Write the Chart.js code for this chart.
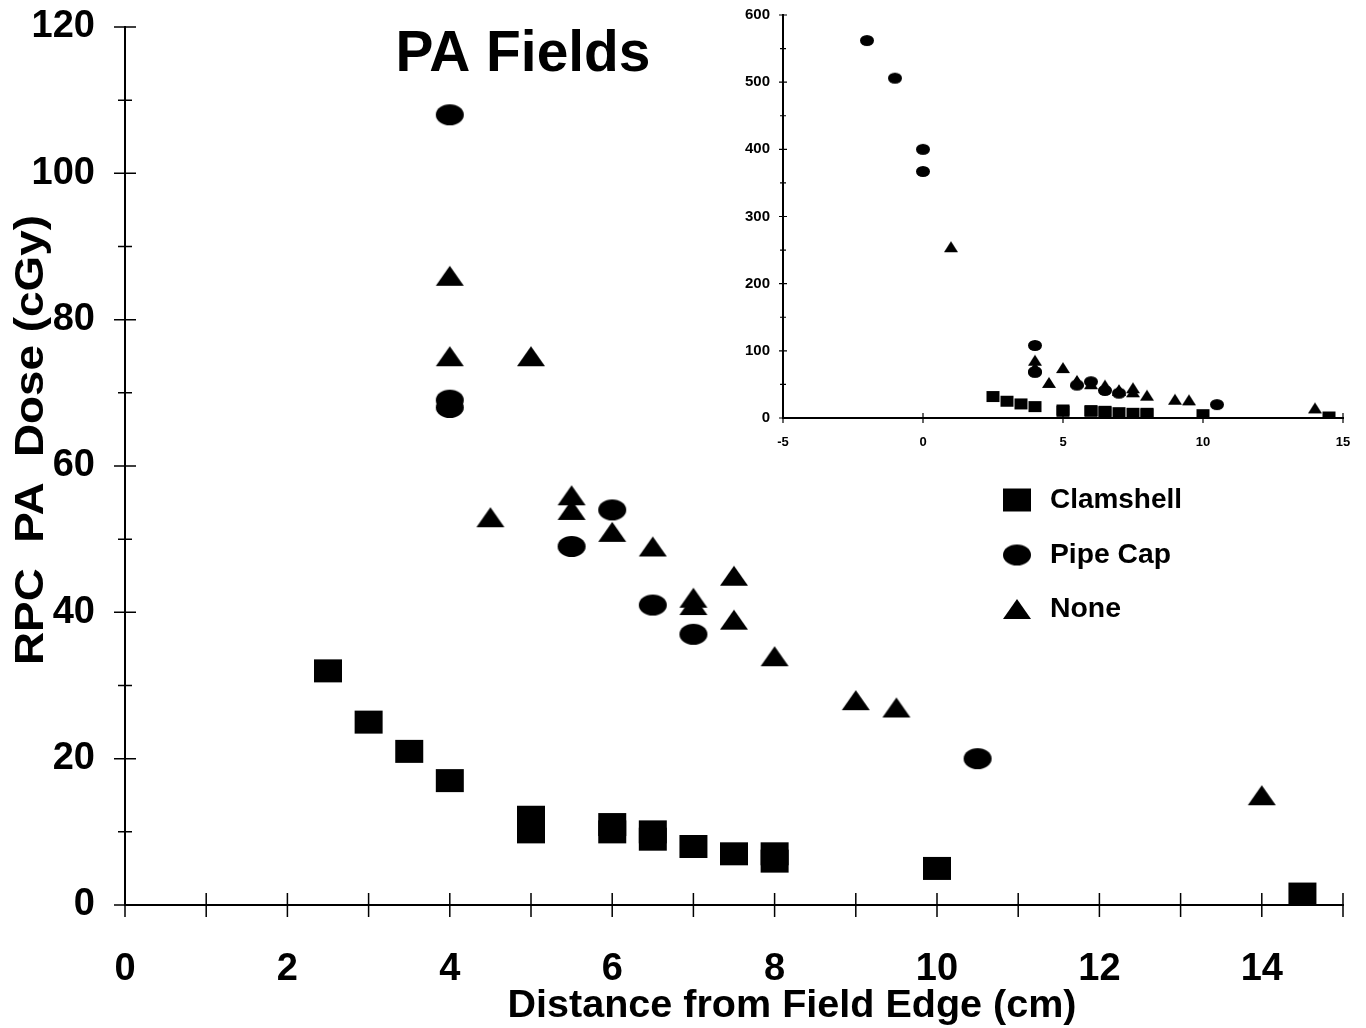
<!DOCTYPE html>
<html>
<head>
<meta charset="utf-8">
<script src="https://cdn.jsdelivr.net/npm/chart.js@4/dist/chart.umd.min.js"></script>
<style>
  html, body { margin: 0; padding: 0; background: #fff; }
  #wrap { position: relative; width: 1366px; height: 1028px; }
  #main { position: absolute; left: 0; top: 0; }
  #inset { position: absolute; left: 740px; top: 0; }
</style>
</head>
<body>
<div id="wrap">
  <canvas id="main" width="1366" height="1028"></canvas>
  <canvas id="inset" width="626" height="460"></canvas>
</div>
<script>
// values (distance in cm, dose in cGy)
const clamX = [2.5, 3, 3.5, 4, 5, 5, 6, 6, 6.5, 6.5, 7, 7.5, 8, 8, 10, 14.5];
const clamY = [32, 25, 21, 17, 12, 10, 11, 10, 10, 9, 8, 7, 7, 6, 5, 1.5];

const pipeX = [-2, -1, 0, 0, 4, 4, 4, 5.5, 6, 6.5, 7, 10.5];
const pipeY = [562, 506, 400, 367, 108, 69, 68, 49, 54, 41, 37, 20];

const noneX = [1, 4, 4, 4.5, 5, 5.5, 5.5, 6, 6.5, 7, 7, 7.5, 7.5, 8, 9, 9.5, 14];
const noneY = [255, 86, 75, 53, 75, 56, 54, 51, 49, 42, 41, 45, 39, 34, 28, 27, 15];

const seriesNames = ['Clamshell', 'Pipe Cap', 'None'];

const FONT = '"Liberation Sans", Arial, sans-serif';

function pairs(xs, ys) {
  return xs.map((x, i) => ({ x: x, y: ys[i] }));
}

// small canvases used as point markers
function marker(shape, w, h) {
  const c = document.createElement('canvas');
  c.width = w + 2;
  c.height = h + 2;
  const g = c.getContext('2d');
  g.fillStyle = '#000';
  g.beginPath();
  if (shape === 'rect') {
    g.rect(1, 1, w, h);
  } else if (shape === 'ellipse') {
    g.ellipse(1 + w / 2, 1 + h / 2, w / 2, h / 2, 0, 0, Math.PI * 2);
  } else {
    g.moveTo(1, h + 1);
    g.lineTo(1 + w / 2, 1);
    g.lineTo(w + 1, h + 1);
    g.closePath();
  }
  g.fill();
  return c;
}

const bigMarks = [marker('rect', 28, 23), marker('ellipse', 28, 21), marker('tri', 28, 20)];
const smallMarks = [marker('rect', 13, 11), marker('ellipse', 14, 11), marker('tri', 14, 11)];

function makeDatasets(marks) {
  const sets = [pairs(clamX, clamY), pairs(pipeX, pipeY), pairs(noneX, noneY)];
  return sets.map((d, i) => ({
    label: seriesNames[i],
    data: d,
    pointStyle: marks[i],
    pointRadius: 10,
    showLine: false
  }));
}

// text drawn squeezed to a given width (the original uses a narrow bold face)
function fitText(ctx, text, x, y, width, size, rot, align) {
  ctx.save();
  ctx.font = 'bold ' + size + 'px ' + FONT;
  const m = ctx.measureText(text).width;
  ctx.translate(x, y);
  ctx.rotate(rot || 0);
  ctx.scale(width / m, 1);
  ctx.textAlign = align || 'center';
  ctx.textBaseline = 'middle';
  ctx.fillStyle = '#000';
  ctx.fillText(text, 0, 0);
  ctx.restore();
}

// tick marks that cross the axis line
const crossTicks = {
  id: 'crossTicks',
  afterDatasetsDraw(chart, args, opts) {
    const ctx = chart.ctx;
    const xs = chart.scales.x, ys = chart.scales.y;
    ctx.save();
    ctx.strokeStyle = '#000';
    ctx.lineWidth = opts.width;
    ctx.beginPath();
    xs.ticks.forEach(t => {
      const px = xs.getPixelForValue(t.value);
      ctx.moveTo(px, ys.bottom - opts.xLen);
      ctx.lineTo(px, ys.bottom + opts.xLen);
    });
    ys.ticks.forEach(t => {
      const py = ys.getPixelForValue(t.value);
      const len = t.value % opts.yMajor === 0 ? opts.yLen : opts.yMinorLen;
      ctx.moveTo(xs.left - len, py);
      ctx.lineTo(xs.left + len, py);
    });
    ctx.stroke();
    ctx.restore();
  }
};

const textItems = {
  id: 'textItems',
  afterDraw(chart, args, opts) {
    const ctx = chart.ctx;
    (opts.items || []).forEach(it => fitText(ctx, it.text, it.x, it.y, it.w, it.size, it.rot, it.align));
    if (opts.legend) {
      const L = opts.legend;
      chart.data.datasets.forEach((ds, i) => {
        const y = L.ys[i];
        const m = L.marks[i];
        ctx.drawImage(m, L.x - m.width / 2, y - m.height / 2);
        fitText(ctx, ds.label, L.tx, y, L.widths[i], L.size, 0, 'left');
      });
    }
  }
};

// invisible tick marks only set the gap between axis and labels
function hiddenGrid(len) {
  return { display: true, drawOnChartArea: false, drawTicks: true, tickLength: len, tickColor: 'rgba(0,0,0,0)' };
}

const mainChart = new Chart(document.getElementById('main'), {
  type: 'scatter',
  data: { datasets: makeDatasets(bigMarks) },
  plugins: [crossTicks, textItems],
  options: {
    responsive: false,
    animation: false,
    events: [],
    layout: { padding: { top: 27, right: 23, left: 0, bottom: 0 } },
    scales: {
      x: {
        type: 'linear',
        min: 0,
        max: 15,
        afterFit: s => { s.height = 123; },
        grid: hiddenGrid(42),
        border: { color: '#000', width: 2 },
        ticks: {
          stepSize: 1,
          padding: 0,
          color: '#000',
          font: { family: FONT, size: 38, weight: 'bold' },
          callback: v => (v % 2 === 0 && v < 15) ? v : ''
        }
      },
      y: {
        type: 'linear',
        min: 0,
        max: 120,
        afterFit: s => { s.width = 125; },
        grid: hiddenGrid(30),
        border: { color: '#000', width: 2 },
        ticks: {
          stepSize: 10,
          padding: 0,
          color: '#000',
          font: { family: FONT, size: 38, weight: 'bold' },
          callback: v => v % 20 === 0 ? v : ''
        }
      }
    },
    plugins: {
      legend: { display: false },
      tooltip: { enabled: false },
      crossTicks: { width: 1.5, xLen: 12, yLen: 11, yMinorLen: 7, yMajor: 20 },
      textItems: {
        items: [
          { text: 'PA Fields', x: 523, y: 55, w: 255, size: 58 },
          { text: 'Distance from Field Edge (cm)', x: 792, y: 1007, w: 569, size: 38 },
          { text: 'RPC  PA  Dose (cGy)', x: 32, y: 440, w: 450, size: 40, rot: -Math.PI / 2 }
        ],
        legend: {
          marks: bigMarks, x: 1017, ys: [500, 555, 609], tx: 1050,
          widths: [132, 121, 71], size: 28
        }
      }
    }
  }
});

const insetChart = new Chart(document.getElementById('inset'), {
  type: 'scatter',
  data: { datasets: makeDatasets(smallMarks) },
  plugins: [crossTicks],
  options: {
    responsive: false,
    animation: false,
    events: [],
    layout: { padding: { top: 15, right: 23, left: 0, bottom: 0 } },
    scales: {
      x: {
        type: 'linear',
        min: -5,
        max: 15,
        afterFit: s => { s.height = 42; },
        grid: hiddenGrid(17),
        border: { color: '#000', width: 2 },
        ticks: {
          stepSize: 5,
          padding: 0,
          color: '#000',
          font: { family: FONT, size: 13, weight: 'bold' }
        }
      },
      y: {
        type: 'linear',
        min: 0,
        max: 600,
        afterFit: s => { s.width = 43; },
        grid: hiddenGrid(13),
        border: { color: '#000', width: 2 },
        ticks: {
          stepSize: 50,
          padding: 0,
          color: '#000',
          font: { family: FONT, size: 15, weight: 'bold' },
          callback: v => v % 100 === 0 ? v : ''
        }
      }
    },
    plugins: {
      legend: { display: false },
      tooltip: { enabled: false },
      crossTicks: { width: 1.2, xLen: 5, yLen: 4, yMinorLen: 3, yMajor: 100 }
    }
  }
});
</script>
</body>
</html>
